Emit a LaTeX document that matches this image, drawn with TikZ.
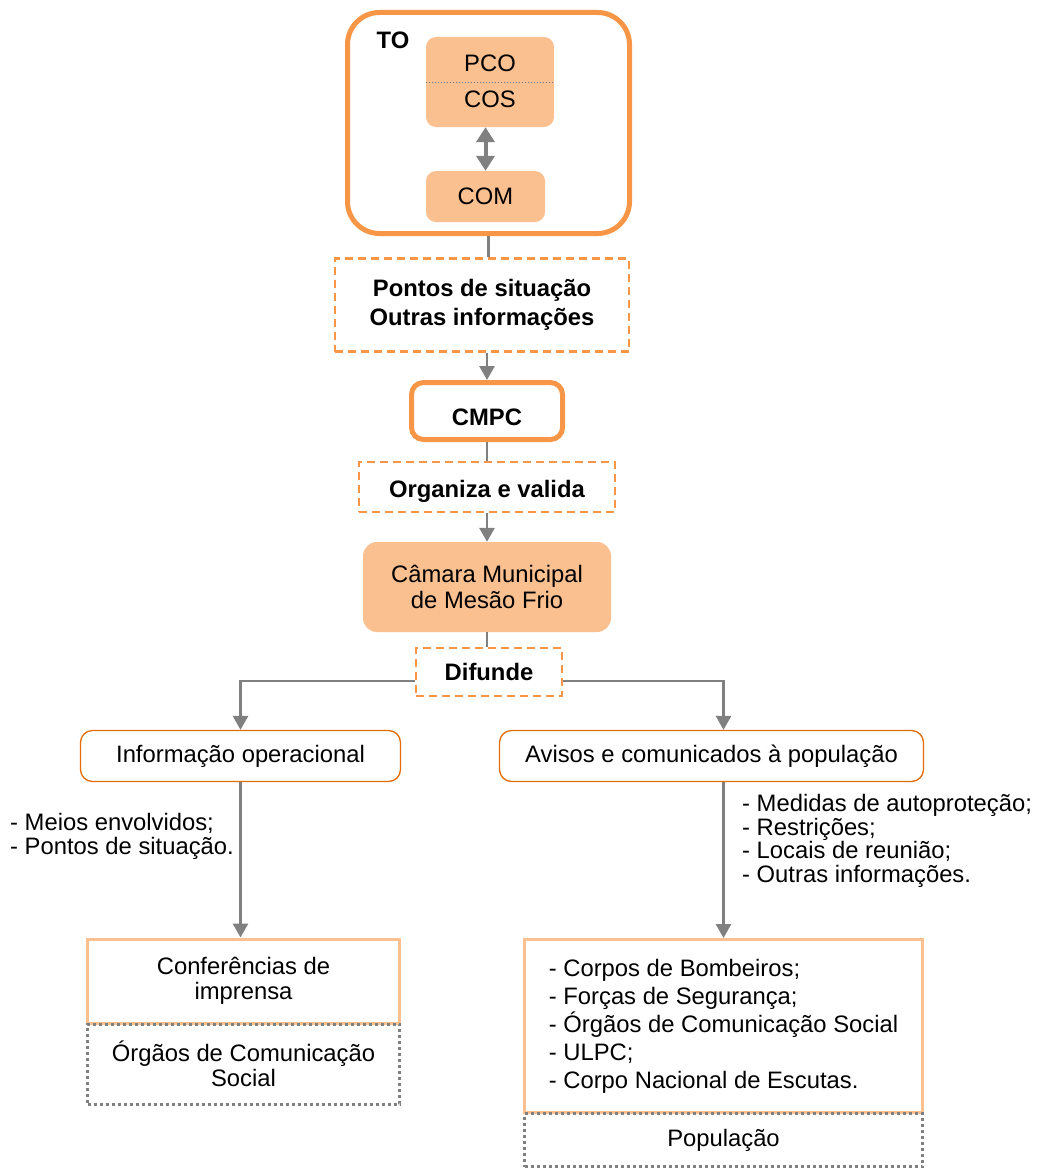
\documentclass[tikz,border=0pt]{standalone}
\usepackage{fontspec}
\setmainfont{Liberation Sans}
\usetikzlibrary{arrows.meta}

\definecolor{laranja}{RGB}{247,150,70}
\definecolor{laranjaclaro}{RGB}{250,192,144}
\definecolor{laranjaescuro}{RGB}{228,108,10}
\definecolor{cinza}{RGB}{128,128,128}
\definecolor{azulcinza}{RGB}{110,125,150}

\begin{document}
\begin{tikzpicture}[x=1pt,y=-1pt,
  every node/.style={font=\fontsize{23.8}{25}\selectfont, align=center},
  negrito/.style={font=\fontsize{23.8}{25}\selectfont\bfseries},
  quadro/.style={draw=laranja, line width=5pt, rounded corners=#1},
  bloco/.style={fill=laranjaclaro, rounded corners=10pt},
  tracejado/.style={draw=laranja, line width=2.5pt, dash pattern=on 8pt off 5pt},
  etiqueta/.style={draw=laranjaescuro, line width=1.3pt, fill=white, rounded corners=12pt},
  moldura/.style={draw=laranjaclaro, line width=3pt},
  pontilhado/.style={draw=cinza, line width=3pt, dash pattern=on 3pt off 3pt},
  liga/.style={draw=cinza, line width=2.8pt},
  seta/.style={liga, -{Triangle[width=15pt,length=14pt]}}
]
\useasboundingbox (0,0) rectangle (1043,1172);

%Shape: TO
\node [quadro=32pt, minimum width=282, minimum height=221] (to) at (488.5,123) {};
\node [negrito] (tolbl) at (393,40) {TO};
\node [bloco, minimum width=128, minimum height=90] (pcocos) at (490,82) {};
\draw [azulcinza, line width=1pt, dash pattern=on 1.5pt off 1.5pt] (pcocos.west) -- (pcocos.east);
\node (pco) at (490,63) {PCO};
\node (cos) at (490,99) {COS};
\node [bloco, minimum width=119, minimum height=51] (com) at (485.5,196.5) {COM};
\draw [cinza, line width=4pt, {Triangle[width=18pt,length=15pt]}-{Triangle[width=18pt,length=15pt]}]
  (com.north |- pcocos.south) -- (com.north);

%Shape: Pontos de situacao
\node [tracejado, negrito, minimum width=294, minimum height=93] (pontos) at (482,305)
  {Pontos de situação\\[4pt]Outras informações};
\node [quadro=12pt, negrito, minimum width=151, minimum height=57, text height=30pt] (cmpc) at (487,411) {CMPC};
\node [tracejado, negrito, minimum width=256, minimum height=50, text height=27pt] (organiza) at (487,487) {Organiza e valida};
\node [bloco, rounded corners=14pt, minimum width=248, minimum height=90, font=\fontsize{23.8}{26}\selectfont] (camara) at (487,587)
  {Câmara Municipal\\de Mesão Frio};
\node [tracejado, negrito, minimum width=146, minimum height=48] (difunde) at (489,672) {Difunde};

%Shape: ramos
\node [etiqueta, minimum width=320, minimum height=51] (info) at (240.5,756) {Informação operacional};
\node [etiqueta, minimum width=424, minimum height=51] (avisos) at (711.5,756) {Avisos e comunicados à população};

% Text Node
\node [anchor=west, align=left, inner sep=0pt, font=\fontsize{23.8}{24}\selectfont] (meios) at (10,836)
  {- Meios envolvidos;\\- Pontos de situação.};
% Text Node
\node [anchor=west, align=left, inner sep=0pt, font=\fontsize{23.8}{23.5}\selectfont] (medidas) at (742,841)
  {- Medidas de autoproteção;\\- Restrições;\\- Locais de reunião;\\- Outras informações.};

%Shape: destinos
\node [moldura, minimum width=312, minimum height=84] (conf) at (243.5,981) {Conferências de\\imprensa};
\node [pontilhado, minimum width=312, minimum height=80] (orgaos) at (243.5,1064) {Órgãos de Comunicação\\Social};
\node [moldura, minimum width=398, minimum height=173, align=left, font=\fontsize{23.8}{28}\selectfont] (grupos) at (723.5,1026)
  {- Corpos de Bombeiros;\\- Forças de Segurança;\\- Órgãos de Comunicação Social\\- ULPC;\\- Corpo Nacional de Escutas.};
\node [pontilhado, minimum width=398, minimum height=53] (populacao) at (723.5,1140) {População};

%Straight Lines
\draw [liga] (to.south) -- (to.south |- pontos.north);
\draw [seta] (cmpc.north |- pontos.south) -- (cmpc.north);
\draw [liga] (cmpc.south) -- (organiza.north);
\draw [seta] (organiza.south) -- (camara.north);
\draw [liga] (camara.south) -- (camara.south |- difunde.north);
\draw [seta] ([yshift=-9pt]difunde.west) -| (info.north);
\draw [seta] ([yshift=-9pt]difunde.east) -| (grupos.north |- avisos.north);
\draw [seta] (info.south) -- (info.south |- conf.north);
\draw [seta] (grupos.north |- avisos.south) -- (grupos.north);
\end{tikzpicture}
\end{document}
